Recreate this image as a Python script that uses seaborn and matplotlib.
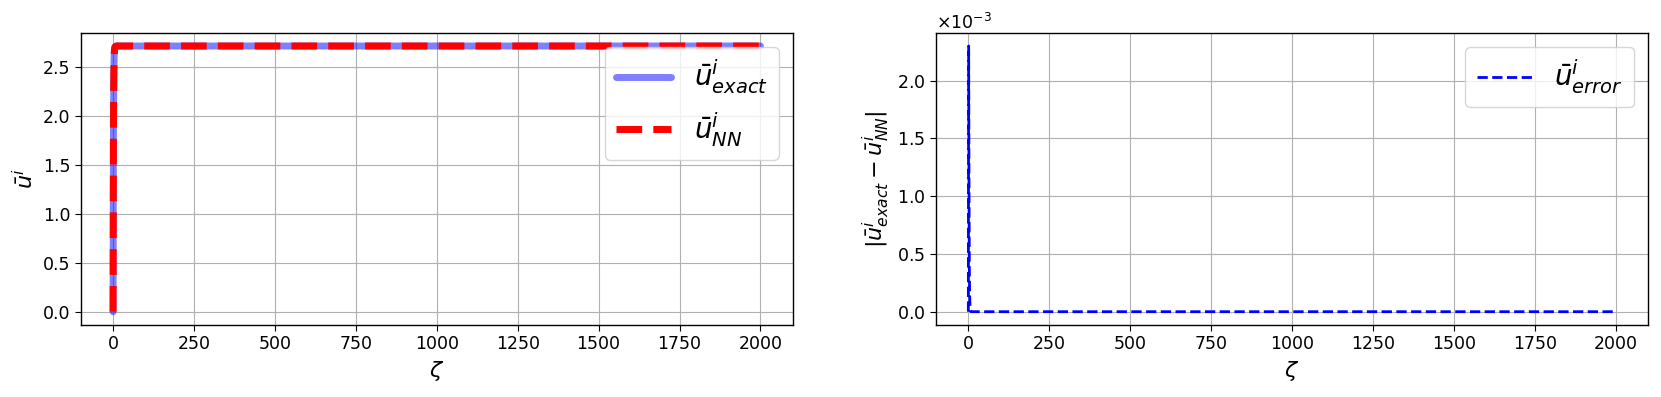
#!/usr/bin/env python3
import numpy as np
import pandas as pd
import matplotlib
matplotlib.use("Agg")
import matplotlib.pyplot as plt
import seaborn as sns

# values
zeta = [0, 1, 2, 3, 4, 5, 6, 8, 10, 15, 20, 50, 100, 250, 500, 750, 1000, 1250, 1500, 1750, 2000]
u_exact = [0.0, 1.72, 2.35, 2.58, 2.67, 2.70, 2.71, 2.716, 2.718, 2.718, 2.718, 2.718, 2.718,
           2.718, 2.718, 2.718, 2.718, 2.718, 2.718, 2.718, 2.718]
u_nn = [0.0, 1.72, 2.35, 2.58, 2.67, 2.70, 2.71, 2.716, 2.718, 2.718, 2.718, 2.718, 2.718,
        2.718, 2.718, 2.718, 2.718, 2.718, 2.718, 2.718, 2.718]
u_err = [0.0, 2.3e-3, 1.2e-3, 4e-4, 1.5e-4, 6e-5, 2e-5, 0.0, 0.0, 0.0, 0.0, 0.0, 0.0,
         0.0, 0.0, 0.0, 0.0, 0.0, 0.0, 0.0, 0.0]
xticks = [0, 250, 500, 750, 1000, 1250, 1500, 1750, 2000]

df = pd.DataFrame({"zeta": zeta, "exact": u_exact, "nn": u_nn, "err": u_err})

sns.set_style("white")
plt.rcParams["font.family"] = ["DejaVu Sans"]
plt.rcParams["mathtext.fontset"] = "dejavusans"
plt.rcParams.update({"text.color": "black", "axes.labelcolor": "black",
                     "xtick.color": "black", "ytick.color": "black"})

fig = plt.figure(figsize=(16.61, 3.97), dpi=100)
ax1 = fig.add_axes([0.0486, 0.1814, 0.4287, 0.7362])
ax2 = fig.add_axes([0.5635, 0.1814, 0.4287, 0.7362])

sns.lineplot(data=df, x="zeta", y="exact", ax=ax1, color="blue", alpha=0.5, lw=5,
             label=r"$\bar{u}^i_{exact}$")
sns.lineplot(data=df, x="zeta", y="nn", ax=ax1, color="red", lw=5,
             label=r"$\bar{u}^i_{NN}$")
ax1.lines[1].set_linestyle("--")
ax1.set_xlabel(r"$\zeta$", fontsize=16)
ax1.set_ylabel(r"$\bar{u}^i$", fontsize=16)
ax1.set_xticks(xticks)
ax1.legend(fontsize=20, loc="upper right")

sns.lineplot(data=df, x="zeta", y="err", ax=ax2, color="blue", lw=2,
             label=r"$\bar{u}^i_{error}$")
ax2.lines[0].set_linestyle("--")
ax2.set_xlabel(r"$\zeta$", fontsize=16)
ax2.set_ylabel(r"$|\bar{u}^i_{exact} - \bar{u}^i_{NN}|$", fontsize=16)
ax2.set_xticks(xticks)
ax2.ticklabel_format(axis="y", style="sci", scilimits=(0, 0), useMathText=True)
ax2.yaxis.get_offset_text().set_fontsize(12.5)
ax2.legend(fontsize=20, loc="upper right")

for ax in (ax1, ax2):
    ax.grid(True, color="#b0b0b0", lw=0.8)
    ax.tick_params(labelsize=12.5, direction="out", length=4, left=True, bottom=True,
                   colors="black")
    for s in ax.spines.values():
        s.set_color("black")
        s.set_linewidth(1.0)

fig.savefig("out.png", dpi=100)
